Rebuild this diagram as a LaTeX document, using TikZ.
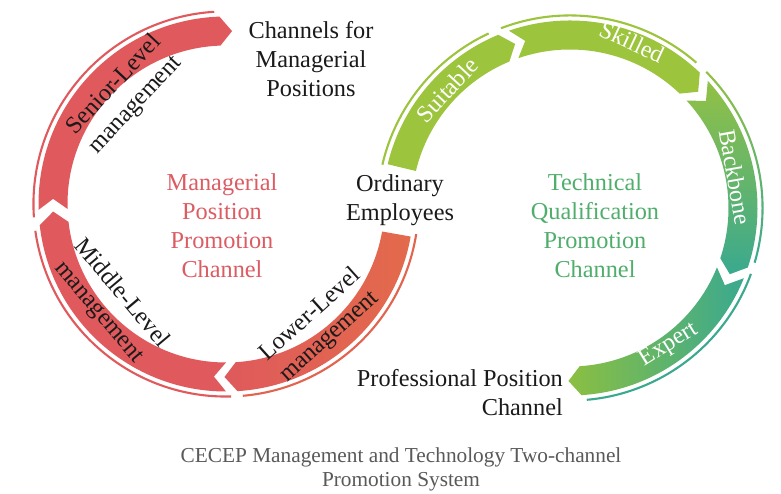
\documentclass[tikz,border=0pt]{standalone}
\usepackage{fontspec}
\setmainfont{Liberation Serif}
\definecolor{redA}{HTML}{E05A5D}
\definecolor{redL}{HTML}{DF5A5C}
\definecolor{redR}{HTML}{E36A4B}
\definecolor{redLine}{HTML}{E2634E}
\definecolor{greenA}{HTML}{9CC43D}
\definecolor{bbTop}{HTML}{92C145}
\definecolor{tealC}{HTML}{3AA98F}
\definecolor{exLeft}{HTML}{8BBF42}
\definecolor{redT}{HTML}{DC5C63}
\definecolor{greenT}{HTML}{4FAE6B}
\definecolor{txt}{HTML}{1A1A1A}
\definecolor{capT}{HTML}{595959}
% band segment: style, tail angle, head-base angle, notch depth
\newcommand{\chevseg}[4]{\path[#1] (#2:187.5pt) arc[start angle=#2, end angle=#3, radius=187.5pt] -- ({#3-4}:173pt) -- (#3:158.5pt) arc[start angle=#3, end angle=#2, radius=158.5pt] -- ({#2-#4}:173pt) -- cycle;}
% thin outer line: style, from angle, to angle
\newcommand{\thinarc}[3]{\path[#1] (#2:191.5pt) arc[start angle=#2, end angle=#3, radius=191.5pt] -- (#3:193.6pt) arc[start angle=#3, end angle=#2, radius=193.6pt] -- cycle;}
\tikzset{
  lbl/.style={font=\fontsize{24.3}{29}\selectfont, align=center, inner sep=0pt, text=txt},
  wlbl/.style={font=\fontsize{24}{29}\selectfont, inner sep=0pt, text=white},
  captext/.style={font=\fontsize{21.3}{24}\selectfont, align=center, inner sep=0pt, text=capT}
}
\begin{document}
\begin{tikzpicture}[x=1pt,y=1pt]
\useasboundingbox (0,0) rectangle (781,494);
\fill[white] (0,0) rectangle (781,494);
% red ring
\begin{scope}[shift={(226,290)}]
  \chevseg{fill=redA}{181.8}{92}{3.5}
  \chevseg{fill=redA}{270}{186.5}{4}
  \chevseg{shade, left color=redL, right color=redR}{350}{273.5}{0}
  \thinarc{fill=redA}{184}{93.5}
  \thinarc{fill=redA}{271.5}{188}
  \thinarc{fill=redLine}{351}{275}
\end{scope}
% green ring
\begin{scope}[shift={(570,286)}]
  \chevseg{fill=greenA}{166.5}{112.5}{0}
  \chevseg{fill=greenA}{109}{46.2}{4}
  \chevseg{shade, top color=bbTop, bottom color=tealC}{42.7}{-18.5}{4.5}
  \chevseg{shade, left color=exLeft, right color=tealC}{-22}{-86.5}{4.5}
  \thinarc{fill=greenA}{167}{115}
  \thinarc{fill=greenA}{111}{49}
  \thinarc{shade, top color=bbTop, bottom color=tealC}{45}{-16.5}
  \thinarc{fill=tealC}{-20}{-85}
\end{scope}
% texts
\node[lbl] (chm) at (311,435) {Channels for\\Managerial\\Positions};
\node[lbl, text=redT] (mpp) at (222,268) {Managerial\\Position\\Promotion\\Channel};
\node[lbl] (oe) at (400,294) {Ordinary\\Employees};
\node[lbl, text=greenT] (tqp) at (595,268) {Technical\\Qualification\\Promotion\\Channel};
\node[lbl, anchor=east, align=right] (ppc) at (563,101) {Professional Position\\Channel};
\node[captext] (caption) at (401,25) {CECEP Management and Technology Two-channel\\Promotion System};
\node[lbl, rotate=47] (sen) at (125,399) {Senior-Level\\management};
\node[lbl, rotate=-50] (mid) at (110,191) {Middle-Level\\management};
\node[lbl, rotate=42] (low) at (320,168) {Lower-Level\\management};
\node[wlbl, rotate=47] (suit) at (447,404) {Suitable};
\node[wlbl, rotate=-25] (skil) at (632,452) {Skilled};
\node[wlbl, rotate=-80] (back) at (735,317) {Backbone};
\node[wlbl, rotate=32] (expt) at (669,149) {Expert};
\end{tikzpicture}
\end{document}
